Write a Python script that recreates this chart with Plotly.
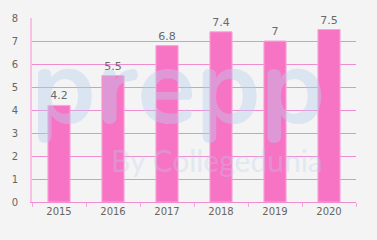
import plotly.graph_objects as go

years = ["2015", "2016", "2017", "2018", "2019", "2020"]
values = [4.2, 5.5, 6.8, 7.4, 7, 7.5]
labels = ["4.2", "5.5", "6.8", "7.4", "7", "7.5"]

fig = go.Figure()
fig.add_trace(go.Bar(
    x=years, y=values, text=labels, textposition="outside",
    marker=dict(color="#f774c4", line=dict(color="#f9a6da", width=1)),
    textfont=dict(color="#6a6a6a", size=11, family="DejaVu Sans"),
    cliponaxis=False, width=0.41,
))

fig.update_layout(
    width=377, height=240,
    margin=dict(l=25, r=21, t=18, b=38),
    paper_bgcolor="#f4f4f4", plot_bgcolor="#f4f4f4",
    showlegend=False,
    font=dict(family="DejaVu Sans", size=10, color="#666666"),
    xaxis=dict(
        type="category", showgrid=False, tickson="boundaries",
        ticks="outside", ticklen=4, tickcolor="#f5a8dc",
        showline=True, linecolor="#f08cd0", linewidth=1,
        tickfont=dict(size=10, color="#666666"),
    ),
    yaxis=dict(
        range=[0, 8], dtick=1, showgrid=True, gridcolor="#f08cd0", gridwidth=1,
        showline=True, linecolor="#f7c0e4", linewidth=2,
        zeroline=False, tickfont=dict(size=10, color="#666666"),
        ticks="", ticklabelstandoff=10,
    ),
    bargap=0.59,
)

fig.add_annotation(text="<b>prepp</b>", xref="paper", yref="paper", x=0.45, y=0.62,
                   showarrow=False, font=dict(size=108, color="#b8cff0", family="Nunito, Lato, DejaVu Sans"),
                   opacity=0.4)
fig.add_annotation(text="By Collegedunia", xref="paper", yref="paper", x=0.57, y=0.12,
                   showarrow=False, font=dict(size=30, color="#b8cff0", family="Lato, DejaVu Sans"),
                   opacity=0.3)

fig.write_html("out.html")
